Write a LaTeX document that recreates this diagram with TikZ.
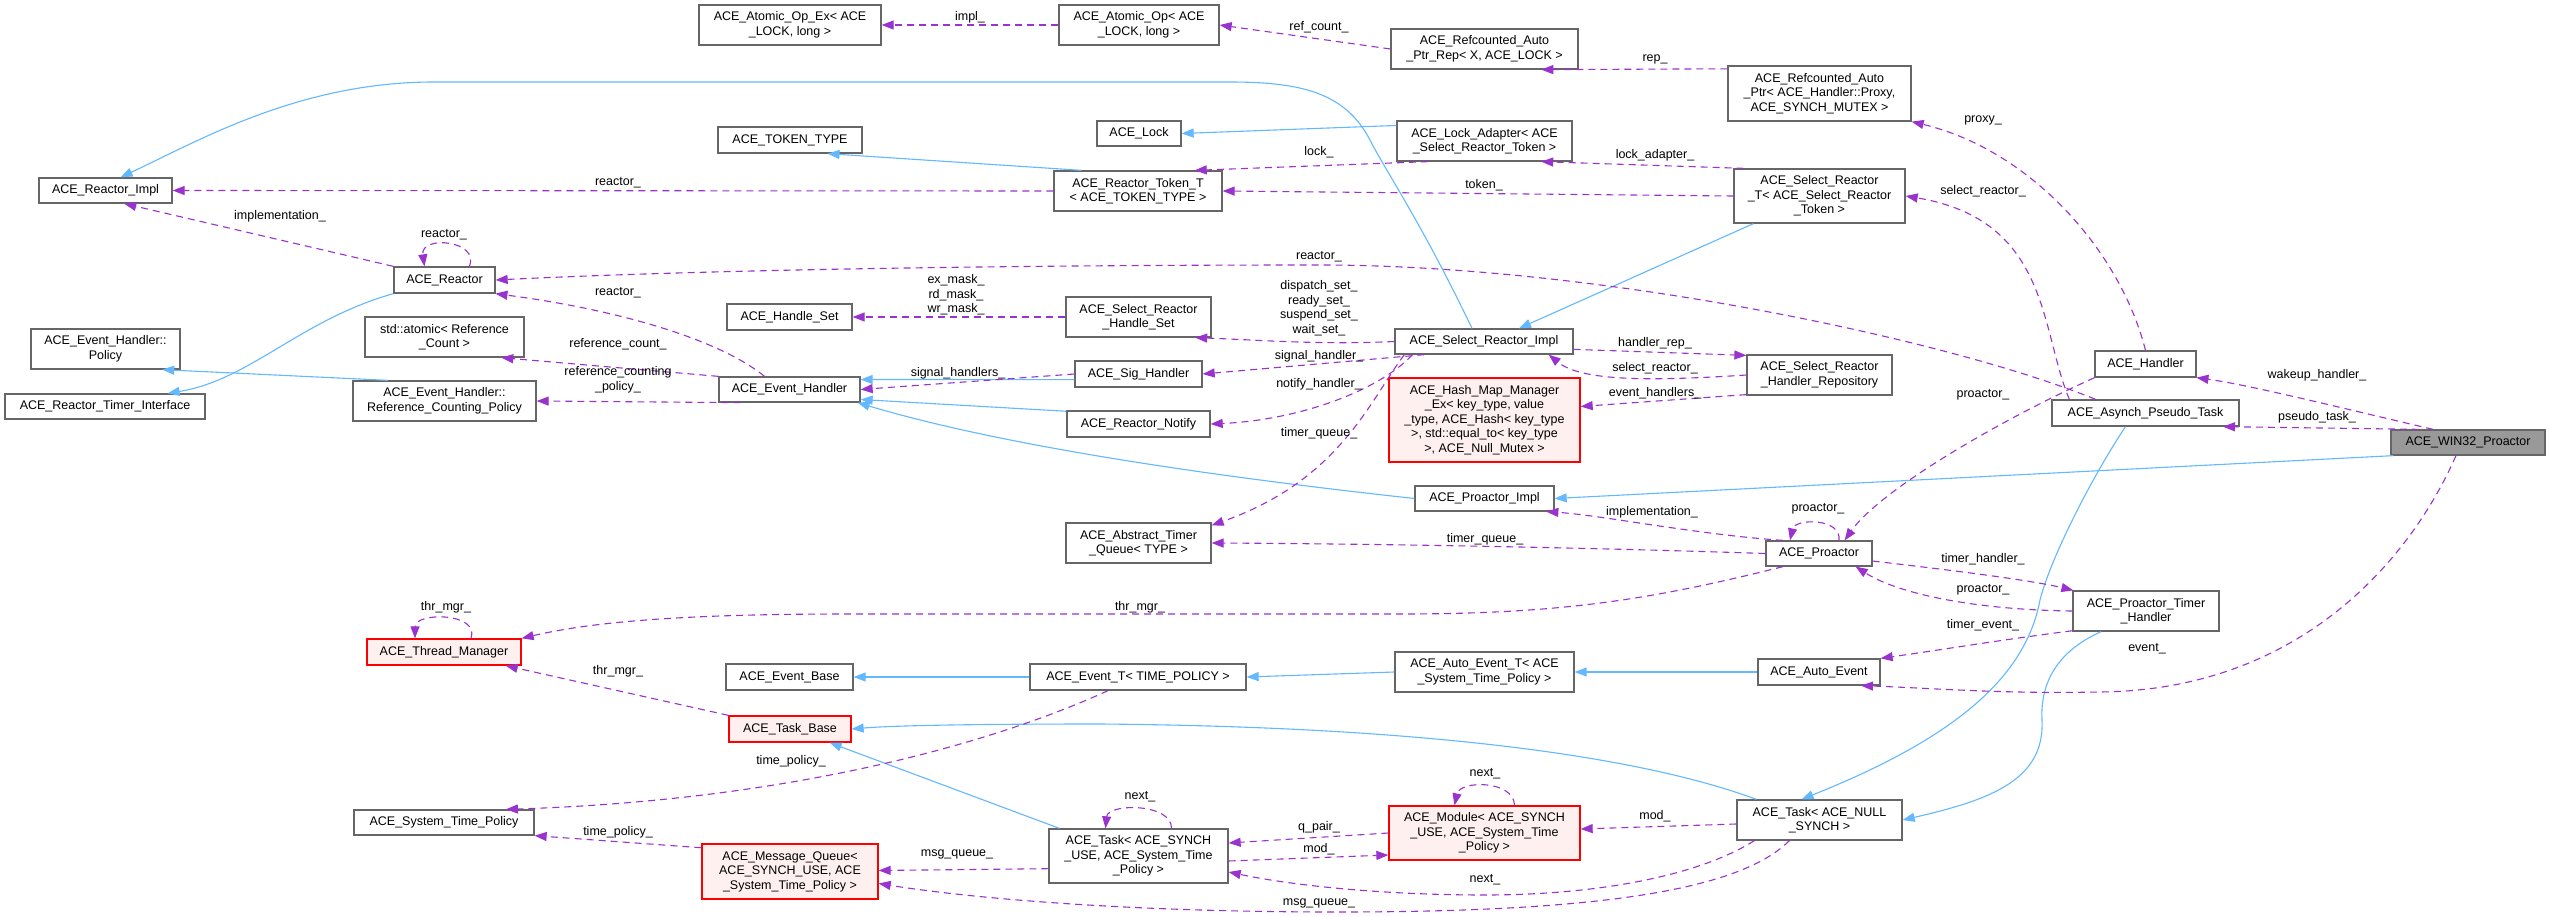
\documentclass[tikz,border=0pt]{standalone}
\usepackage{fontspec}
\setmainfont{Liberation Sans}
\usetikzlibrary{arrows.meta}
\definecolor{inhc}{HTML}{63B8FF}
\definecolor{usec}{HTML}{9A32CD}
\definecolor{bordc}{HTML}{666666}
\tikzset{
  nd/.style={draw=bordc, line width=1.3pt, fill=white, align=center, inner sep=1pt, font=\fontsize{12.5}{14.5}\selectfont},
  rednd/.style={nd, draw=red, fill={rgb,255:red,255;green,240;blue,240}},
  cur/.style={nd, fill={rgb,255:red,153;green,153;blue,153}},
  inh/.style={draw=inhc, line width=1.1pt, -{Triangle[length=12pt,width=9pt]}},
  use/.style={draw=usec, line width=1.1pt, dash pattern=on 7pt off 5pt, -{Triangle[length=12pt,width=9pt]}},
  lbl/.style={align=center, inner sep=0pt, font=\fontsize{12.5}{14.5}\selectfont}
}
\begin{document}
\begin{tikzpicture}[x=1pt,y=-1pt]
\useasboundingbox[fill=white] (0,0) rectangle (2549,917);
% nodes
\node[nd,minimum width=182,minimum height=40] (AEx) at (790,25) {ACE\_Atomic\_Op\_Ex< ACE\\\_LOCK, long >};
\node[nd,minimum width=160,minimum height=40] (AOp) at (1139,25) {ACE\_Atomic\_Op< ACE\\\_LOCK, long >};
\node[nd,minimum width=187,minimum height=40] (RAPR) at (1484.5,49) {ACE\_Refcounted\_Auto\\\_Ptr\_Rep< X, ACE\_LOCK >};
\node[nd,minimum width=183,minimum height=55] (RAP) at (1819.5,93.5) {ACE\_Refcounted\_Auto\\\_Ptr< ACE\_Handler::Proxy,\\ ACE\_SYNCH\_MUTEX >};
\node[nd,minimum width=144,minimum height=26] (TT) at (790,140) {ACE\_TOKEN\_TYPE};
\node[nd,minimum width=84,minimum height=25] (Lock) at (1139,133.5) {ACE\_Lock};
\node[nd,minimum width=175,minimum height=40] (LA) at (1484.5,141) {ACE\_Lock\_Adapter< ACE\\\_Select\_Reactor\_Token >};
\node[nd,minimum width=168,minimum height=40] (RTT) at (1138,191) {ACE\_Reactor\_Token\_T\\< ACE\_TOKEN\_TYPE >};
\node[nd,minimum width=133,minimum height=25] (RI) at (105.5,190.5) {ACE\_Reactor\_Impl};
\node[nd,minimum width=171,minimum height=54] (SRT) at (1819.5,196) {ACE\_Select\_Reactor\\\_T< ACE\_Select\_Reactor\\\_Token >};
\node[nd,minimum width=101,minimum height=26] (Reactor) at (444.5,280) {ACE\_Reactor};
\node[nd,minimum width=125,minimum height=26] (HS) at (789.5,317) {ACE\_Handle\_Set};
\node[nd,minimum width=149,minimum height=40] (EHP) at (105.5,349) {ACE\_Event\_Handler::\\Policy};
\node[nd,minimum width=200,minimum height=25] (RTI) at (105,406.5) {ACE\_Reactor\_Timer\_Interface};
\node[nd,minimum width=159,minimum height=40] (Atomic) at (444.5,337) {std::atomic< Reference\\\_Count >};
\node[nd,minimum width=183,minimum height=40] (RCP) at (444.5,401) {ACE\_Event\_Handler::\\Reference\_Counting\_Policy};
\node[nd,minimum width=141,minimum height=25] (EH) at (789.5,389.5) {ACE\_Event\_Handler};
\node[nd,minimum width=145,minimum height=40] (SRHS) at (1138.5,317) {ACE\_Select\_Reactor\\\_Handle\_Set};
\node[nd,minimum width=178,minimum height=25] (SRI) at (1484,341.5) {ACE\_Select\_Reactor\_Impl};
\node[nd,minimum width=127,minimum height=26] (SH) at (1138.5,374) {ACE\_Sig\_Handler};
\node[nd,minimum width=143,minimum height=26] (RN) at (1138.5,424) {ACE\_Reactor\_Notify};
\node[rednd,minimum width=191,minimum height=84] (HMM) at (1484.5,420) {ACE\_Hash\_Map\_Manager\\\_Ex< key\_type, value\\\_type, ACE\_Hash< key\_type\\>, std::equal\_to< key\_type\\>, ACE\_Null\_Mutex >};
\node[nd,minimum width=145,minimum height=40] (SRHR) at (1819.5,375) {ACE\_Select\_Reactor\\\_Handler\_Repository};
\node[nd,minimum width=101,minimum height=26] (Handler) at (2145.5,364) {ACE\_Handler};
\node[nd,minimum width=187,minimum height=26] (APT) at (2145.5,413) {ACE\_Asynch\_Pseudo\_Task};
\node[cur,minimum width=154,minimum height=25] (WIN) at (2468,442.5) {ACE\_WIN32\_Proactor};
\node[rednd,minimum width=154,minimum height=26] (TM) at (444,652) {ACE\_Thread\_Manager};
\node[nd,minimum width=127,minimum height=26] (EB) at (789.5,677) {ACE\_Event\_Base};
\node[rednd,minimum width=122,minimum height=26] (TB) at (790,729) {ACE\_Task\_Base};
\node[nd,minimum width=180,minimum height=25] (STP) at (444,822.5) {ACE\_System\_Time\_Policy};
\node[rednd,minimum width=176,minimum height=55] (MQ) at (790,871.5) {ACE\_Message\_Queue<\\ ACE\_SYNCH\_USE, ACE\\\_System\_Time\_Policy >};
\node[nd,minimum width=139,minimum height=25] (PI) at (1484.5,498.5) {ACE\_Proactor\_Impl};
\node[nd,minimum width=145,minimum height=40] (ATQ) at (1138.5,543) {ACE\_Abstract\_Timer\\\_Queue< TYPE >};
\node[nd,minimum width=216,minimum height=26] (ET) at (1138,677) {ACE\_Event\_T< TIME\_POLICY >};
\node[nd,minimum width=179,minimum height=40] (AET) at (1484.5,672) {ACE\_Auto\_Event\_T< ACE\\\_System\_Time\_Policy >};
\node[nd,minimum width=179,minimum height=54] (TaskS) at (1138.5,856) {ACE\_Task< ACE\_SYNCH\\\_USE, ACE\_System\_Time\\\_Policy >};
\node[rednd,minimum width=191,minimum height=54] (Mod) at (1484.5,833) {ACE\_Module< ACE\_SYNCH\\\_USE, ACE\_System\_Time\\\_Policy >};
\node[nd,minimum width=106,minimum height=25] (Proactor) at (1819,553.5) {ACE\_Proactor};
\node[nd,minimum width=146,minimum height=40] (PTH) at (2146,611) {ACE\_Proactor\_Timer\\\_Handler};
\node[nd,minimum width=122,minimum height=26] (AE) at (1819,672) {ACE\_Auto\_Event};
\node[nd,minimum width=165,minimum height=40] (TaskN) at (1819.5,820) {ACE\_Task< ACE\_NULL\\\_SYNCH >};
% inheritance
\draw[inh] (LA.170) -- (Lock.east);
\draw[inh] (RTT.160) -- (TT.-20);
\draw[inh] (SRI.north) ++(-12,0) .. controls (1420,220) and (1385,170) .. (1370,140) .. controls (1345,92) and (1300,82) .. (1229,82) -- (434,82) .. controls (300,82) and (200,140) .. ([xshift=15pt]RI.north);
\draw[inh] ([xshift=20pt]SRT.south west) -- ([xshift=35pt]SRI.north);
\draw[inh] (Reactor.south west) .. controls (300,320) and (250,380) .. ([xshift=-38pt]RTI.north east);
\draw[inh] (RCP.160) -- (EHP.-20);
\draw[inh] (SH.185) -- (EH.8);
\draw[inh] (RN.170) -- (EH.-8);
\draw[inh] (PI.west) .. controls (1200,475) and (1000,445) .. ([xshift=-3pt]EH.south east);
\draw[inh] (WIN.190) -- (PI.east);
\draw[inh] ([xshift=-20pt]APT.south) .. controls (2090,480) and (2050,560) .. (2040,600) .. controls (2025,680) and (1950,740) .. ([xshift=-18pt]TaskN.north);
\draw[inh] ([xshift=-45pt]PTH.south) .. controls (2060,650) and (2040,680) .. (2042,720) .. controls (2045,780) and (1990,800) .. (TaskN.east);
\draw[inh] (AE.west) -- (AET.east);
\draw[inh] (AET.west) -- (ET.east);
\draw[inh] (ET.west) -- (EB.east);
\draw[inh] ([xshift=11pt]TaskS.north west) -- ([xshift=-22pt]TB.south east);
\draw[inh] ([xshift=20pt]TaskN.north west) .. controls (1650,760) and (1450,727) .. (1100,724) .. controls (1000,724) and (900,725) .. (TB.east);
% usage
\draw[use] (AOp.west) -- node[lbl,above=1pt]{impl\_} (AEx.east);
\draw[use] (RAPR.west) -- (AOp.east);
\node[lbl] (l1) at (1319,27) {ref\_count\_};
\draw[use] (RAP.165) -- (RAPR.-20);
\node[lbl] (l2) at (1655,59) {rep\_};
\draw[use] (Handler.north) .. controls (2120,250) and (2030,150) .. (RAP.south east);
\node[lbl] (l3) at (1983,120) {proxy\_};
\draw[use] (LA.200) -- (RTT.20);
\node[lbl] (l4) at (1319,152) {lock\_};
\draw[use] (SRT.160) -- (LA.-20);
\node[lbl] (l5) at (1655,155) {lock\_adapter\_};
\draw[use] (SRT.west) -- (RTT.east);
\node[lbl] (l6) at (1484,185) {token\_};
\draw[use] (RTT.west) -- (RI.east);
\node[lbl] (l7) at (618,183) {reactor\_};
\draw[use] ([xshift=18pt]APT.north west) .. controls (2040,330) and (2050,220) .. (SRT.east);
\node[lbl] (l8) at (1983,191) {select\_reactor\_};
\draw[use] (Reactor.north west) -- (RI.-35);
\node[lbl] (l9) at (280,216) {implementation\_};
\draw[use] ([xshift=25pt]Reactor.north) .. controls (480,240) and (420,235) .. ([xshift=-20pt]Reactor.north);
\node[lbl] (l10) at (444,235) {reactor\_};
\draw[use] ([xshift=-50pt]APT.north) .. controls (1950,340) and (1600,265) .. (1319,265) .. controls (1000,265) and (700,270) .. (Reactor.east);
\node[lbl] (l11) at (1319,257) {reactor\_};
\draw[use] ([xshift=-25pt]EH.north) .. controls (720,340) and (620,310) .. (Reactor.-15);
\node[lbl] (l12) at (618,293) {reactor\_};
\draw[use] (SRHS.west) -- (HS.east);
\node[lbl] (l13) at (956,295) {ex\_mask\_\\rd\_mask\_\\wr\_mask\_};
\draw[use] (SRI.west) .. controls (1320,345) and (1260,340) .. (SRHS.-20);
\node[lbl] (l14) at (1319,308) {dispatch\_set\_\\ready\_set\_\\suspend\_set\_\\wait\_set\_};
\draw[use] (EH.north west) -- (Atomic.-20);
\node[lbl] (l15) at (618,344) {reference\_count\_};
\draw[use] (EH.195) -- (RCP.east);
\node[lbl] (l16) at (618,380) {reference\_counting\\\_policy\_};
\draw[use] (SH.west) -- (EH.east);
\node[lbl] (l17) at (958,373) {signal\_handlers\_};
\draw[use] ([xshift=30pt]SRI.south west) -- (SH.east);
\node[lbl] (l18) at (1319,356) {signal\_handler\_};
\draw[use] ([xshift=18pt]SRI.south west) .. controls (1380,390) and (1300,420) .. (RN.east);
\node[lbl] (l19) at (1319,384) {notify\_handler\_};
\draw[use] ([xshift=10pt]SRI.south west) .. controls (1370,400) and (1340,480) .. ([yshift=-3pt]ATQ.north east);
\node[lbl] (l20) at (1319,433) {timer\_queue\_};
\draw[use] (SRI.-5) -- (SRHR.165);
\node[lbl] (l21) at (1655,343) {handler\_rep\_};
\draw[use] (SRHR.west) .. controls (1640,382) and (1580,380) .. ([xshift=-25pt]SRI.south east);
\node[lbl] (l22) at (1655,368) {select\_reactor\_};
\draw[use] (SRHR.-165) -- (HMM.8);
\node[lbl] (l23) at (1655,393) {event\_handlers\_};
\draw[use] ([xshift=-35pt]WIN.north) .. controls (2350,410) and (2250,385) .. (Handler.-15);
\node[lbl] (l24) at (2317,375) {wakeup\_handler\_};
\draw[use] (WIN.165) -- (APT.-10);
\node[lbl] (l25) at (2317,417) {pseudo\_task\_};
\draw[use] (Handler.-165) .. controls (2000,420) and (1880,490) .. ([xshift=-28pt]Proactor.north east);
\node[lbl] (l26) at (1983,395) {proactor\_};
\draw[use] ([xshift=20pt]Proactor.north) .. controls (1842,518) and (1795,518) .. ([xshift=-29pt]Proactor.north);
\node[lbl] (l27) at (1818,509) {proactor\_};
\draw[use] (Proactor.160) .. controls (1700,535) and (1600,515) .. (PI.-12);
\node[lbl] (l28) at (1652,512) {implementation\_};
\draw[use] (Proactor.west) .. controls (1600,548) and (1400,544) .. (ATQ.east);
\node[lbl] (l29) at (1485,539) {timer\_queue\_};
\draw[use] (Proactor.-160) .. controls (1650,600) and (1560,614) .. (1400,614) -- (850,614) .. controls (700,614) and (600,620) .. (TM.north east);
\node[lbl] (l30) at (1140,607) {thr\_mgr\_};
\draw[use] (Proactor.-8) .. controls (1950,570) and (2030,580) .. ([xshift=1pt]PTH.north west);
\node[lbl] (l31) at (1983,559) {timer\_handler\_};
\draw[use] (PTH.west) .. controls (1980,610) and (1900,595) .. ([xshift=-17pt]Proactor.south east);
\node[lbl] (l32) at (1983,590) {proactor\_};
\draw[use] (PTH.-165) .. controls (2000,640) and (1940,650) .. (AE.north east);
\node[lbl] (l33) at (1983,625) {timer\_event\_};
\draw[use] ([xshift=-12pt]WIN.south) .. controls (2410,560) and (2300,690) .. (2100,692) .. controls (2000,694) and (1930,688) .. (AE.-18);
\node[lbl] (l34) at (2147,649) {event\_};
\draw[use] ([xshift=-30pt]ET.south) .. controls (1000,740) and (800,800) .. (STP.12);
\node[lbl] (l35) at (791,761) {time\_policy\_};
\draw[use] (TB.north west) -- ([xshift=-16pt]TM.south east);
\node[lbl] (l36) at (618,671) {thr\_mgr\_};
\draw[use] ([xshift=27pt]TM.north) .. controls (480,612) and (415,612) .. ([xshift=-29pt]TM.north);
\node[lbl] (l37) at (446,607) {thr\_mgr\_};
\draw[use] (MQ.165) -- (STP.south east);
\node[lbl] (l38) at (618,832) {time\_policy\_};
\draw[use] (TaskS.-172) -- ([yshift=1pt]MQ.east);
\node[lbl] (l39) at (957,854) {msg\_queue\_};
\draw[use] (Mod.west) -- ([yshift=13pt]TaskS.east);
\node[lbl] (l40) at (1319,827) {q\_pair\_};
\draw[use] ([yshift=-5pt]TaskS.east) -- ([yshift=-22pt]Mod.west);
\node[lbl] (l41) at (1319,849) {mod\_};
\draw[use] ([xshift=30pt]Mod.north) .. controls (1514,780) and (1460,780) .. ([xshift=-30pt]Mod.north);
\node[lbl] (l42) at (1485,774) {next\_};
\draw[use] ([xshift=33pt]TaskS.north) .. controls (1172,803) and (1108,803) .. ([xshift=-33pt]TaskS.north);
\node[lbl] (l43) at (1140,797) {next\_};
\draw[use] ([yshift=-4pt]TaskN.west) -- ([yshift=4pt]Mod.east);
\node[lbl] (l44) at (1655,816) {mod\_};
\draw[use] ([xshift=18pt]TaskN.south west) .. controls (1700,875) and (1600,895) .. (1485,895) .. controls (1380,895) and (1290,885) .. ([yshift=-16pt]TaskS.east);
\node[lbl] (l45) at (1485,880) {next\_};
\draw[use] ([xshift=53pt]TaskN.south west) .. controls (1740,890) and (1600,912) .. (1338,912) .. controls (1100,912) and (950,895) .. ([yshift=-12pt]MQ.east);
\node[lbl] (l46) at (1319,903) {msg\_queue\_};
\end{tikzpicture}
\end{document}
